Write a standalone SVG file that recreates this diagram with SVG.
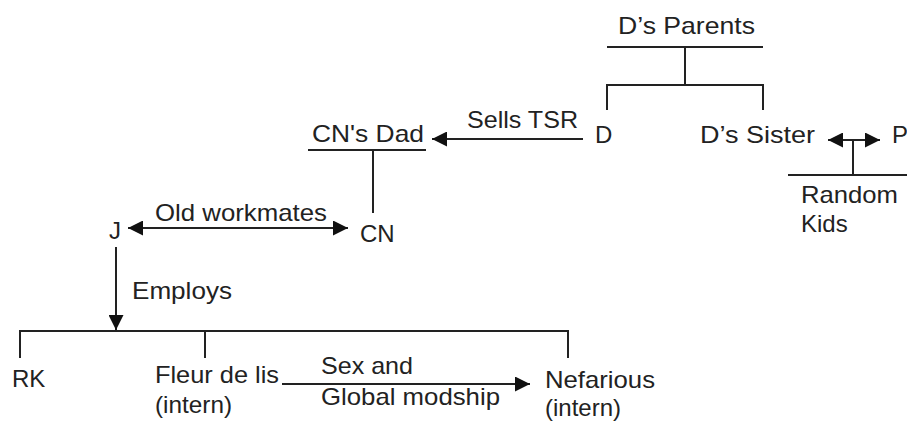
<svg xmlns="http://www.w3.org/2000/svg" width="907" height="426" viewBox="0 0 907 426">
<defs>
<marker id="ahs" viewBox="0 0 10 10" refX="10" refY="5" markerWidth="15" markerHeight="15" markerUnits="userSpaceOnUse" orient="auto-start-reverse"><path d="M0,0 L10,5 L0,10 z" fill="#111"/></marker>
</defs>
<style>
text{font-family:"Liberation Sans",Arial,sans-serif;font-size:24px;fill:#222}
.l{stroke:#222;stroke-width:2;fill:none}
.a{stroke:#222;stroke-width:2;fill:none;marker-end:url(#ahs)}
.b{stroke:#222;stroke-width:2;fill:none;marker-start:url(#ahs);marker-end:url(#ahs)}
</style>
<rect width="907" height="426" fill="#fff"/>
<g id="connectors">
<path class="l" d="M607,47 H763 M685,47 V85 M607,110 V85 H763 V110"/>
<path class="b" d="M828,140 H880"/>
<path class="l" d="M853,140 V175 M788,175 H907"/>
<path class="a" d="M583,139 H432"/>
<path class="l" d="M308,150 H426 M373,150 V213"/>
<path class="b" d="M128,228 H348"/>
<path class="a" d="M116,247 V330"/>
<path class="l" d="M20,358 V331 H568 V358 M205,331 V358"/>
<path class="a" d="M282,384 H530"/>
</g>
<g id="dparents"><text x="618" y="34" textLength="137" lengthAdjust="spacingAndGlyphs">D’s Parents</text></g>
<g id="d"><text x="595" y="143">D</text></g>
<g id="dsister"><text x="700" y="143" textLength="115" lengthAdjust="spacingAndGlyphs">D’s Sister</text></g>
<g id="p"><text x="892" y="143">P</text></g>
<g id="randomkids"><text x="801" y="203" textLength="97" lengthAdjust="spacingAndGlyphs">Random</text><text x="801" y="232">Kids</text></g>
<g id="sellstsr"><text x="467" y="128" textLength="111" lengthAdjust="spacingAndGlyphs">Sells TSR</text></g>
<g id="cnsdad"><text x="312" y="142" textLength="112" lengthAdjust="spacingAndGlyphs">CN's Dad</text></g>
<g id="cn"><text x="360" y="242">CN</text></g>
<g id="oldworkmates"><text x="155" y="221" textLength="172" lengthAdjust="spacingAndGlyphs">Old workmates</text></g>
<g id="j"><text x="109" y="239">J</text></g>
<g id="employs"><text x="132" y="299" textLength="100" lengthAdjust="spacingAndGlyphs">Employs</text></g>
<g id="rk"><text x="12" y="387">RK</text></g>
<g id="fleur"><text x="155" y="383" textLength="124" lengthAdjust="spacingAndGlyphs">Fleur de lis</text><text x="155" y="413" textLength="77" lengthAdjust="spacingAndGlyphs">(intern)</text></g>
<g id="sex"><text x="321" y="374" textLength="92" lengthAdjust="spacingAndGlyphs">Sex and</text><text x="321" y="405" textLength="179" lengthAdjust="spacingAndGlyphs">Global modship</text></g>
<g id="nefarious"><text x="545" y="388" textLength="110" lengthAdjust="spacingAndGlyphs">Nefarious</text><text x="545" y="416" textLength="76" lengthAdjust="spacingAndGlyphs">(intern)</text></g>
</svg>
